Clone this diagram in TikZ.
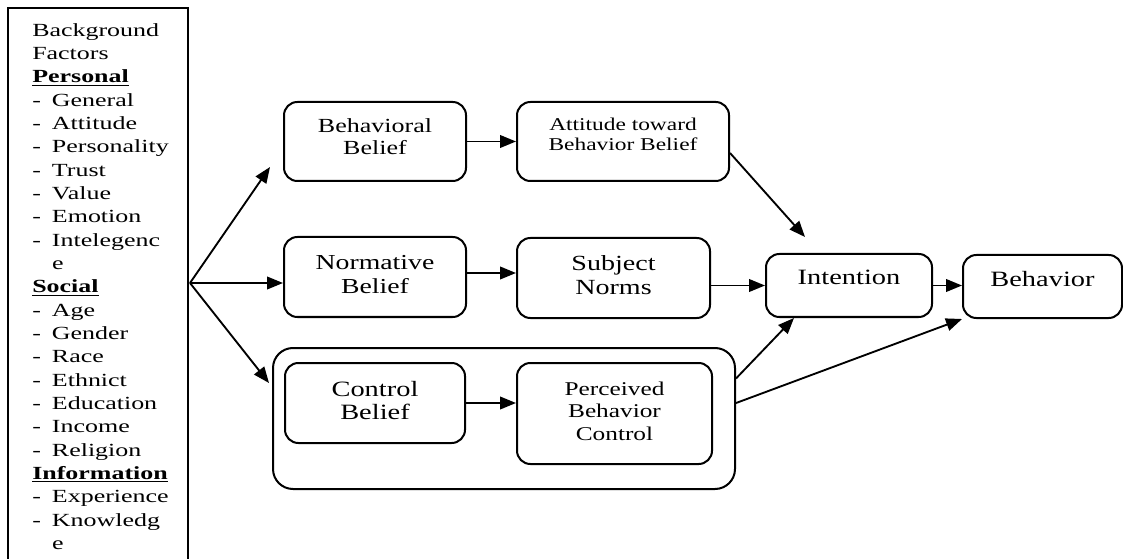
\documentclass[tikz,border=0pt]{standalone}
\usepackage{fontspec}
\setmainfont[FakeStretch=1.3]{Liberation Serif}
\newfontfamily\listfont[FakeStretch=1.4]{Liberation Serif}
\usetikzlibrary{arrows.meta}
\newcommand{\fitem}[1]{\makebox[14.8pt][l]{-}#1}
\newcommand{\fcont}[1]{\hspace*{14.8pt}#1}

\begin{document}
\begin{tikzpicture}[x=0.75pt,y=-0.75pt,
    box/.style={draw, line width=1.5pt, rounded corners=10pt, align=center},
    arr/.style={-{Triangle[length=12pt,width=9.5pt]}, line width=1.4pt}]
    \useasboundingbox (0,0) rectangle (1123,559);
    % background factors
    \node[draw, line width=1.5pt, minimum width=135pt, minimum height=415.5pt, inner sep=0] (lft) at (98,285) {};
    \node[anchor=north west, inner sep=0, align=left, font=\listfont\fontsize{13.9pt}{17.5pt}\selectfont] (fct) at (32,23)
        {Background\\Factors\\\underline{\textbf{Personal}}\\
         \fitem{General}\\\fitem{Attitude}\\\fitem{Personality}\\\fitem{Trust}\\\fitem{Value}\\\fitem{Emotion}\\\fitem{Intelegenc}\\\fcont{e}\\
         \underline{\textbf{Social}}\\
         \fitem{Age}\\\fitem{Gender}\\\fitem{Race}\\\fitem{Ethnict}\\\fitem{Education}\\\fitem{Income}\\\fitem{Religion}\\
         \underline{\textbf{Information}}\\
         \fitem{Experience}\\\fitem{Knowledg}\\\fcont{e}};
    % beliefs
    \node[box, minimum width=136.5pt, minimum height=59.25pt, text depth=8pt, font=\fontsize{15pt}{16.5pt}\selectfont] (bb) at (375,141.5) {Behavioral\\Belief};
    \node[box, minimum width=159pt, minimum height=59.25pt, text depth=11pt, font=\fontsize{13.5pt}{15pt}\selectfont] (atb) at (623,141.5) {Attitude toward\\Behavior Belief};
    \node[box, minimum width=136.5pt, minimum height=60pt, text depth=4pt, font=\fontsize{16pt}{17.5pt}\selectfont] (nb) at (375,277) {Normative\\Belief};
    \node[box, minimum width=144.75pt, minimum height=60pt, text depth=4pt, font=\fontsize{16.2pt}{18pt}\selectfont] (sn) at (613.5,278) {Subject\\Norms};
    \node[box, rounded corners=15pt, minimum width=346.5pt, minimum height=105.75pt] (grp) at (504,418.5) {};
    \node[box, minimum width=135pt, minimum height=60pt, text depth=4pt, font=\fontsize{16.4pt}{17.25pt}\selectfont] (cb) at (375,403) {Control\\Belief};
    \node[box, minimum width=146.25pt, minimum height=75.75pt, text depth=4pt, font=\fontsize{14.6pt}{16.9pt}\selectfont] (pbc) at (614.5,413.5) {Perceived\\Behavior\\Control};
    \node[box, minimum width=124.5pt, minimum height=47.25pt, text depth=13pt, font=\fontsize{16.4pt}{18pt}\selectfont] (intn) at (849,285.5) {Intention};
    \node[box, minimum width=119.25pt, minimum height=47.25pt, text depth=11pt, font=\fontsize{16.4pt}{18pt}\selectfont] (bhv) at (1042.5,286.5) {Behavior};
    % free arrow ends
    \coordinate (fan) at (190,283);
    \coordinate (bbin) at (270,167);
    \coordinate (grpin) at (269,383);
    \coordinate (intin) at (805,237);
    % arrows
    \draw[arr] (fan) -- (bbin);
    \draw[arr] (fan) -- (fan -| nb.west);
    \draw[arr] (fan) -- (grpin);
    \draw[arr] (bb) -- (atb);
    \draw[arr] ([yshift=3pt]nb.east) -- ([yshift=3pt]nb.east -| sn.west);
    \draw[arr] (cb) -- (cb -| pbc.west);
    \draw[arr] ([yshift=-8.6pt]atb.east) -- (intin);
    \draw[arr] (sn.east |- intn) -- (intn.west);
    \draw[arr] (intn) -- (intn -| bhv.west);
    \draw[arr] ([yshift=30pt]grp.east) -- ([xshift=21.75pt]intn.south west);
    \draw[arr] ([yshift=11.6pt]grp.east) -- (bhv.south west);
\end{tikzpicture}
\end{document}
